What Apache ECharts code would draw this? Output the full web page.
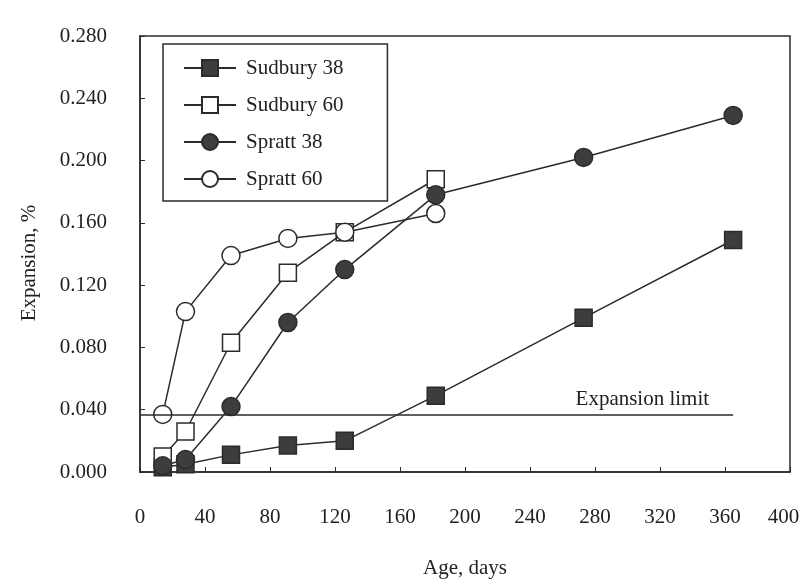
<!DOCTYPE html>
<html><head><meta charset="utf-8">
<script src="https://cdn.jsdelivr.net/npm/echarts@6/dist/echarts.min.js"></script>
<style>html,body{margin:0;padding:0;background:#fff}#c{width:803px;height:587px}</style>
</head><body><div id="c"></div>
<script>
const days = [14, 28, 56, 91, 126, 182, 273, 365];
const sudbury38 = [0.003, 0.005, 0.011, 0.017, 0.020, 0.049, 0.099, 0.149];
const sudbury60 = [0.010, 0.026, 0.083, 0.128, 0.154, 0.188];
const spratt38  = [0.004, 0.008, 0.042, 0.096, 0.130, 0.178, 0.202, 0.229];
const spratt60  = [0.037, 0.103, 0.139, 0.150, 0.154, 0.166];
const limitX = [0, 365];
const limitY = 0.037;
const limitLabel = 'Expansion limit';
const xTicks = [0, 40, 80, 120, 160, 200, 240, 280, 320, 360, 400];
const yTicks = [0.000, 0.040, 0.080, 0.120, 0.160, 0.200, 0.240, 0.280];

const ink = '#2b2b2b';
const font = 'Liberation Serif';
function pairs(xs, ys){ return ys.map((v,i)=>[xs[i], v]); }
function mk(name, ys, symbol, filled, size){
  return {
    name, type:'line', data: pairs(days, ys), symbol, symbolSize:size,
    lineStyle:{color:ink, width:1.5},
    itemStyle:{color: filled ? '#3d3d3d' : '#ffffff', borderColor:ink, borderWidth:1.5},
    z: 3
  };
}
const xMax = xTicks[xTicks.length-1];
const chart = echarts.init(document.getElementById('c'));
chart.setOption({
  backgroundColor:'#ffffff',
  animation:false,
  grid:{left:140, right:13, top:36, bottom:115, outerBoundsMode:'none', containLabel:false,
        show:true, borderColor:ink, borderWidth:1.5, backgroundColor:'transparent'},
  legend:{
    left:163, top:44, orient:'vertical',
    data:['Sudbury 38','Sudbury 60','Spratt 38','Spratt 60'],
    itemWidth:52, itemHeight:20, itemGap:13,
    padding:[12,44,10,20],
    borderColor:ink, borderWidth:1.5,
    textStyle:{fontFamily:font, fontSize:21, color:'#222', lineHeight:24, padding:[0,0,0,5]}
  },
  xAxis:{
    type:'value', min:xTicks[0], max:xMax, interval:40,
    name:'Age, days', nameLocation:'middle', nameGap:86,
    nameTextStyle:{fontFamily:font, fontSize:21, color:'#222'},
    axisLine:{show:true, lineStyle:{color:ink, width:1.5}},
    axisTick:{show:true, inside:true, length:5, lineStyle:{color:ink}},
    axisLabel:{fontFamily:font, fontSize:21, color:'#222', margin:35,
      formatter:v => v === xMax ? '{m|' + v + '}' : String(v),
      rich:{m:{fontFamily:font, fontSize:21, color:'#222', padding:[0,13,0,0]}}},
    splitLine:{show:false}
  },
  yAxis:{
    type:'value', min:yTicks[0], max:yTicks[yTicks.length-1], interval:0.04,
    name:'Expansion, %', nameLocation:'middle', nameGap:100,
    nameTextStyle:{fontFamily:font, fontSize:21, color:'#222', padding:[0,18,0,0]},
    axisLine:{show:true, lineStyle:{color:ink, width:1.5}},
    axisTick:{show:true, inside:true, length:5, lineStyle:{color:ink}},
    axisLabel:{fontFamily:font, fontSize:21, color:'#222', margin:33, formatter:v=>v.toFixed(3)},
    splitLine:{show:false}
  },
  series:[
    {
      name:'limit', type:'line', data:[], silent:true,
      markLine:{
        symbol:'none', silent:true, animation:false,
        lineStyle:{color:ink, width:1.5, type:'solid'},
        label:{show:true, formatter:limitLabel, position:'insideEndTop', distance:4,
               padding:[0,20,0,0], fontFamily:font, fontSize:21, color:'#222'},
        data:[[{coord:[limitX[0], limitY]}, {coord:[limitX[1], limitY]}]]
      }
    },
    mk('Sudbury 38', sudbury38, 'rect', true, 17),
    mk('Sudbury 60', sudbury60, 'rect', false, 17),
    mk('Spratt 38', spratt38, 'circle', true, 18),
    mk('Spratt 60', spratt60, 'circle', false, 18)
  ]
});
</script></body></html>
